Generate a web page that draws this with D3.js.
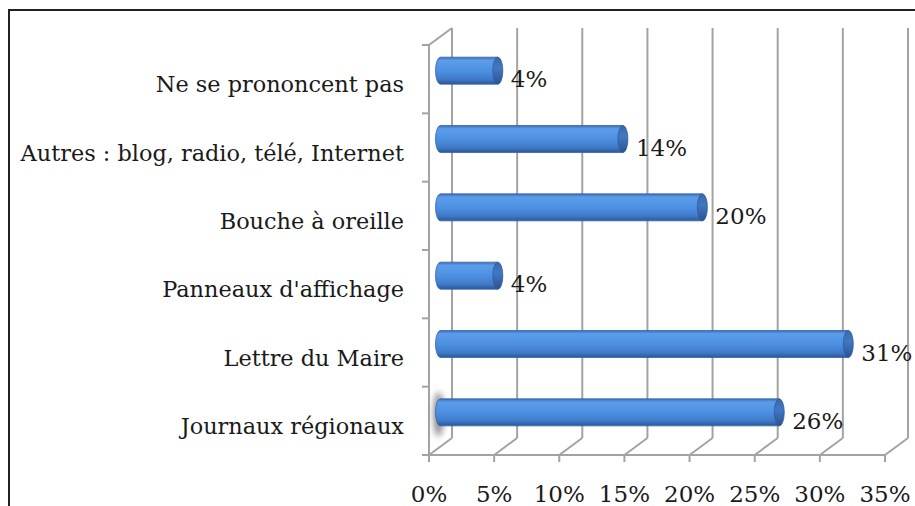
<!DOCTYPE html>
<html>
<head>
<meta charset="utf-8">
<script src="https://cdn.jsdelivr.net/npm/d3@7"></script>
<style>
  body { margin: 0; background: #fff; }
  text { font-family: "DejaVu Serif", serif; fill: #1a1a1a; }
</style>
</head>
<body>
<div id="chart"></div>
<script>
// Data, top row first
var categories = ['Ne se prononcent pas', 'Autres : blog, radio, télé, Internet', 'Bouche à oreille',
                  "Panneaux d'affichage", 'Lettre du Maire', 'Journaux régionaux'];
var values = [4.4, 14, 20.1, 4.4, 31.3, 26];
var ticks = [0, 5, 10, 15, 20, 25, 30, 35];

var W = 915, H = 506;
var depth = { dx: 23, dy: -17 };

var svg = d3.select('#chart').append('svg')
    .attr('width', W)
    .attr('height', H);

var defs = svg.append('defs');
var g1 = defs.append('linearGradient').attr('id', 'barGrad')
    .attr('x1', 0).attr('y1', 0).attr('x2', 0).attr('y2', 1);
g1.append('stop').attr('offset', '0%').attr('stop-color', '#3b6db4');
g1.append('stop').attr('offset', '12%').attr('stop-color', '#5c9cea');
g1.append('stop').attr('offset', '50%').attr('stop-color', '#4d90e2');
g1.append('stop').attr('offset', '82%').attr('stop-color', '#3f7ac8');
g1.append('stop').attr('offset', '100%').attr('stop-color', '#2a5699');
var g2 = defs.append('linearGradient').attr('id', 'capGrad')
    .attr('x1', 0).attr('y1', 0).attr('x2', 0).attr('y2', 1);
g2.append('stop').attr('offset', '0%').attr('stop-color', '#3a68a8');
g2.append('stop').attr('offset', '40%').attr('stop-color', '#4278c2');
g2.append('stop').attr('offset', '100%').attr('stop-color', '#2a5290');
defs.append('filter').attr('id', 'blur')
    .attr('x', '-100%').attr('y', '-50%').attr('width', '300%').attr('height', '200%')
  .append('feGaussianBlur').attr('stdDeviation', 3);

// outer frame
svg.append('rect')
    .attr('x', 9).attr('y', 10)
    .attr('width', W + 20).attr('height', H + 20)
    .attr('fill', 'none')
    .attr('stroke', '#222').attr('stroke-width', 2);

var xScale = d3.scaleLinear().domain([0, 35]).range([429, 885]);
var yScale = d3.scaleBand().domain(categories).range([45, 455]);
var floorY = yScale.range()[1], topY = yScale.range()[0];

var grid = '#a3a3a3';

// back wall gridlines
svg.selectAll('.grid').data(ticks).enter().append('line')
    .attr('x1', function(d) { return xScale(d) + depth.dx; })
    .attr('x2', function(d) { return xScale(d) + depth.dx; })
    .attr('y1', floorY + depth.dy)
    .attr('y2', topY + depth.dy)
    .attr('stroke', grid).attr('stroke-width', 2);

// floor diagonals
svg.selectAll('.floor').data(ticks).enter().append('line')
    .attr('x1', function(d) { return xScale(d); })
    .attr('y1', floorY)
    .attr('x2', function(d) { return xScale(d) + depth.dx; })
    .attr('y2', floorY + depth.dy)
    .attr('stroke', grid).attr('stroke-width', 2);

// left wall
svg.append('path')
    .attr('d', 'M' + xScale(0) + ',' + floorY + 'V' + topY +
          'L' + (xScale(0) + depth.dx) + ',' + (topY + depth.dy))
    .attr('fill', 'none').attr('stroke', grid).attr('stroke-width', 2);

var bounds = categories.map(function(c) { return yScale(c); }).concat([floorY]);
svg.selectAll('.ytick').data(bounds).enter().append('line')
    .attr('x1', xScale(0) - 7).attr('x2', xScale(0))
    .attr('y1', function(d) { return d; })
    .attr('y2', function(d) { return d; })
    .attr('stroke', grid).attr('stroke-width', 2);

// front axis
svg.append('line')
    .attr('x1', xScale(0)).attr('x2', xScale(35))
    .attr('y1', floorY).attr('y2', floorY)
    .attr('stroke', grid).attr('stroke-width', 2);
svg.selectAll('.xtick').data(ticks).enter().append('line')
    .attr('x1', function(d) { return xScale(d); })
    .attr('x2', function(d) { return xScale(d); })
    .attr('y1', floorY).attr('y2', floorY + 7)
    .attr('stroke', grid).attr('stroke-width', 2);

svg.selectAll('.xlab').data(ticks).enter().append('text')
    .attr('x', function(d) { return xScale(d); })
    .attr('y', 502)
    .attr('text-anchor', 'middle')
    .style('font-size', '23px')
    .text(function(d) { return d + '%'; });

// bars (cylinders at half depth)
var bx = depth.dx / 2, by = depth.dy / 2, th = 27, rx = 5;
var bw = yScale.bandwidth();

// shadow on bottom bar
var last = categories[categories.length - 1];
svg.append('ellipse')
    .attr('cx', xScale(0) + bx - 2)
    .attr('cy', yScale(last) + bw / 2 + by + 2)
    .attr('rx', 5).attr('ry', 22)
    .attr('fill', '#888')
    .attr('filter', 'url(#blur)');

var bars = svg.selectAll('.bar').data(categories).enter().append('g');
bars.append('path')
    .attr('d', function(d, i) {
        var x0 = xScale(0) + bx, x1 = xScale(values[i]) + bx;
        var cy = yScale(d) + bw / 2 + by, t = cy - th / 2, b = cy + th / 2;
        return 'M' + x1 + ',' + t + 'H' + x0 +
               'A' + rx + ',' + (th / 2) + ' 0 0 0 ' + x0 + ',' + b +
               'H' + x1 + 'Z';
    })
    .attr('fill', 'url(#barGrad)')
    .attr('stroke', '#3465a8').attr('stroke-width', 0.8);
bars.append('ellipse')
    .attr('cx', function(d, i) { return xScale(values[i]) + bx; })
    .attr('cy', function(d) { return yScale(d) + bw / 2 + by; })
    .attr('rx', rx).attr('ry', th / 2)
    .attr('fill', 'url(#capGrad)')
    .attr('stroke', '#2f5c9c').attr('stroke-width', 0.8);

// value labels
svg.selectAll('.vlab').data(categories).enter().append('text')
    .attr('x', function(d, i) { return xScale(values[i]) + bx + rx + 8; })
    .attr('y', function(d) { return yScale(d) + bw / 2 + 8; })
    .style('font-size', '23px')
    .text(function(d, i) { return Math.round(values[i]) + '%'; });

// category labels
svg.selectAll('.clab').data(categories).enter().append('text')
    .attr('x', 404)
    .attr('y', function(d) { return yScale(d) + bw / 2 + 13; })
    .attr('text-anchor', 'end')
    .style('font-size', '22.4px')
    .text(function(d) { return d; });
</script>
</body>
</html>
